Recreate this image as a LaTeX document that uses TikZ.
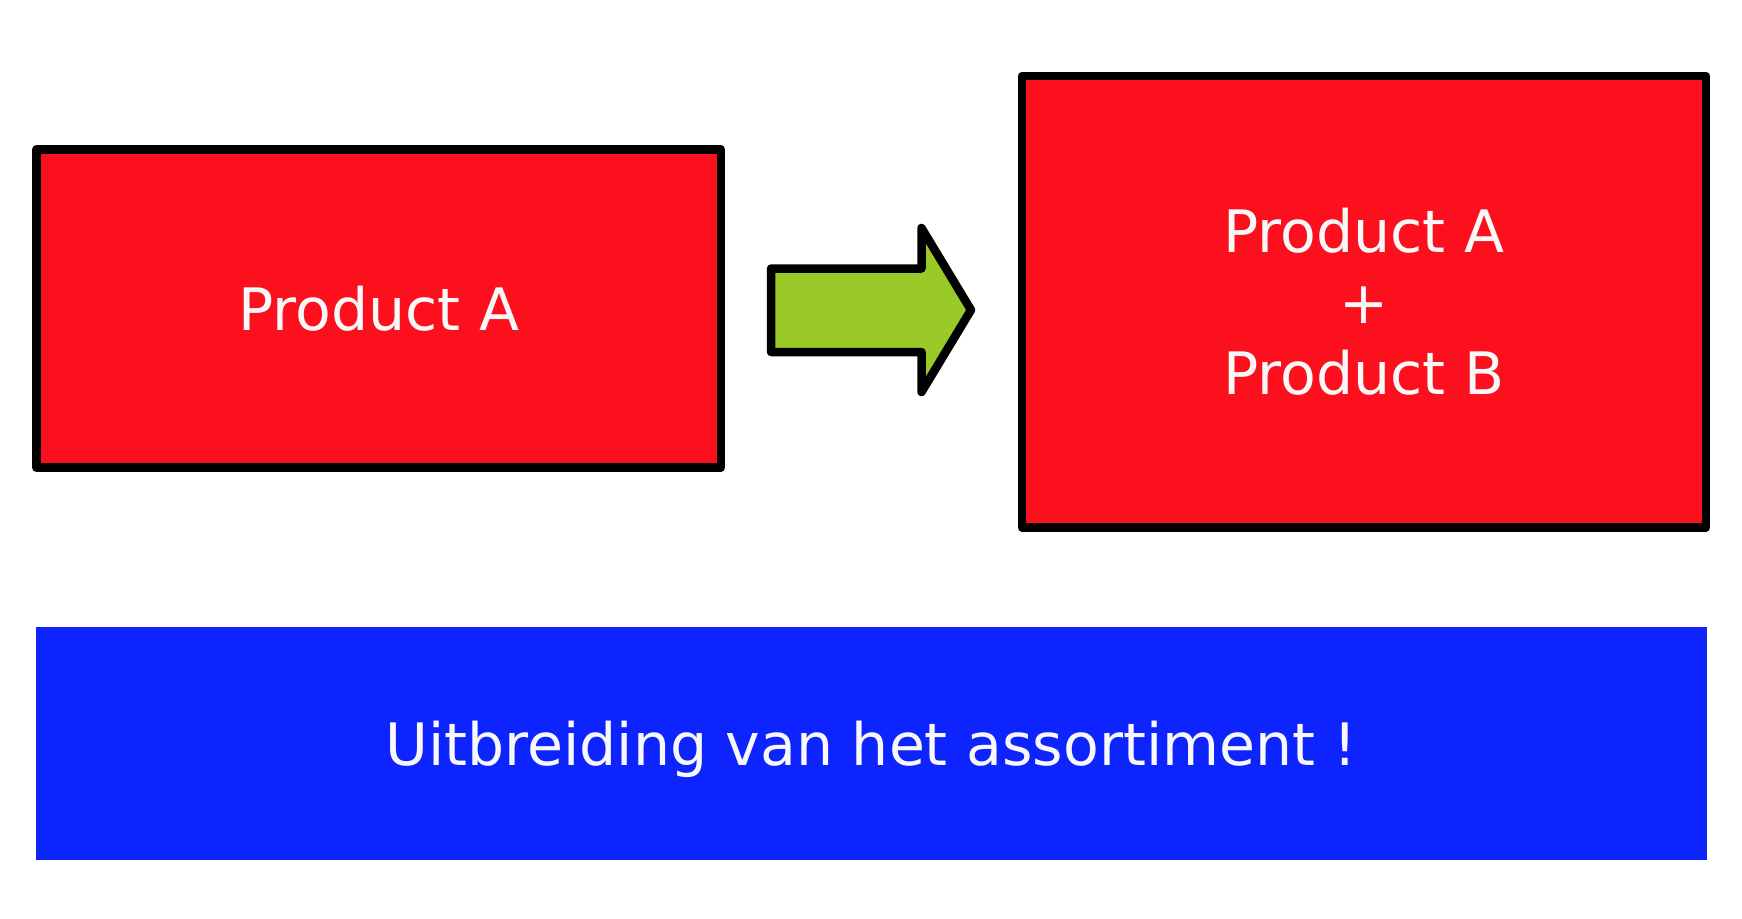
\documentclass[tikz,border=0pt]{standalone}
\usepackage{fontspec}
\setmainfont{DejaVu Sans}
\definecolor{boxred}{HTML}{FC101E}
\definecolor{arrowgreen}{HTML}{9ACA27}
\definecolor{boxblue}{HTML}{0D24FF}
\definecolor{txtwhite}{HTML}{F8F8F8}
\tikzset{
  redbox/.style={draw=black, line width=8.5pt, fill=boxred, line join=round, inner sep=0pt, text=txtwhite, font=\fontsize{58.5pt}{71pt}\selectfont, align=center},
  bluebox/.style={fill=boxblue, inner sep=0pt, text=txtwhite, text depth=0pt, font=\fontsize{58.5pt}{71pt}\selectfont},
  bigarrow/.style={draw=black, line width=8.5pt, fill=arrowgreen, line join=round}
}
\begin{document}
\begin{tikzpicture}[x=1pt,y=-1pt]
\useasboundingbox (0,0) rectangle (1742,918);
\node[redbox, minimum width=684.5pt, minimum height=318pt] (left) at (378.75,308.5) {Product A};
\node[redbox, minimum width=684pt, minimum height=451.5pt] (right) at (1364,301.75) {Product A\\+\\Product B};
\node[bluebox, minimum width=1670.7pt, minimum height=232.7pt] (bottom) at (871.35,743.65) {Uitbreiding van het assortiment !};
\draw[bigarrow] (771,268.5) -- (921.5,268.5) -- (921.5,228) -- (971,310) -- (921.5,392) -- (921.5,352) -- (771,352) -- cycle;
\end{tikzpicture}
\end{document}
